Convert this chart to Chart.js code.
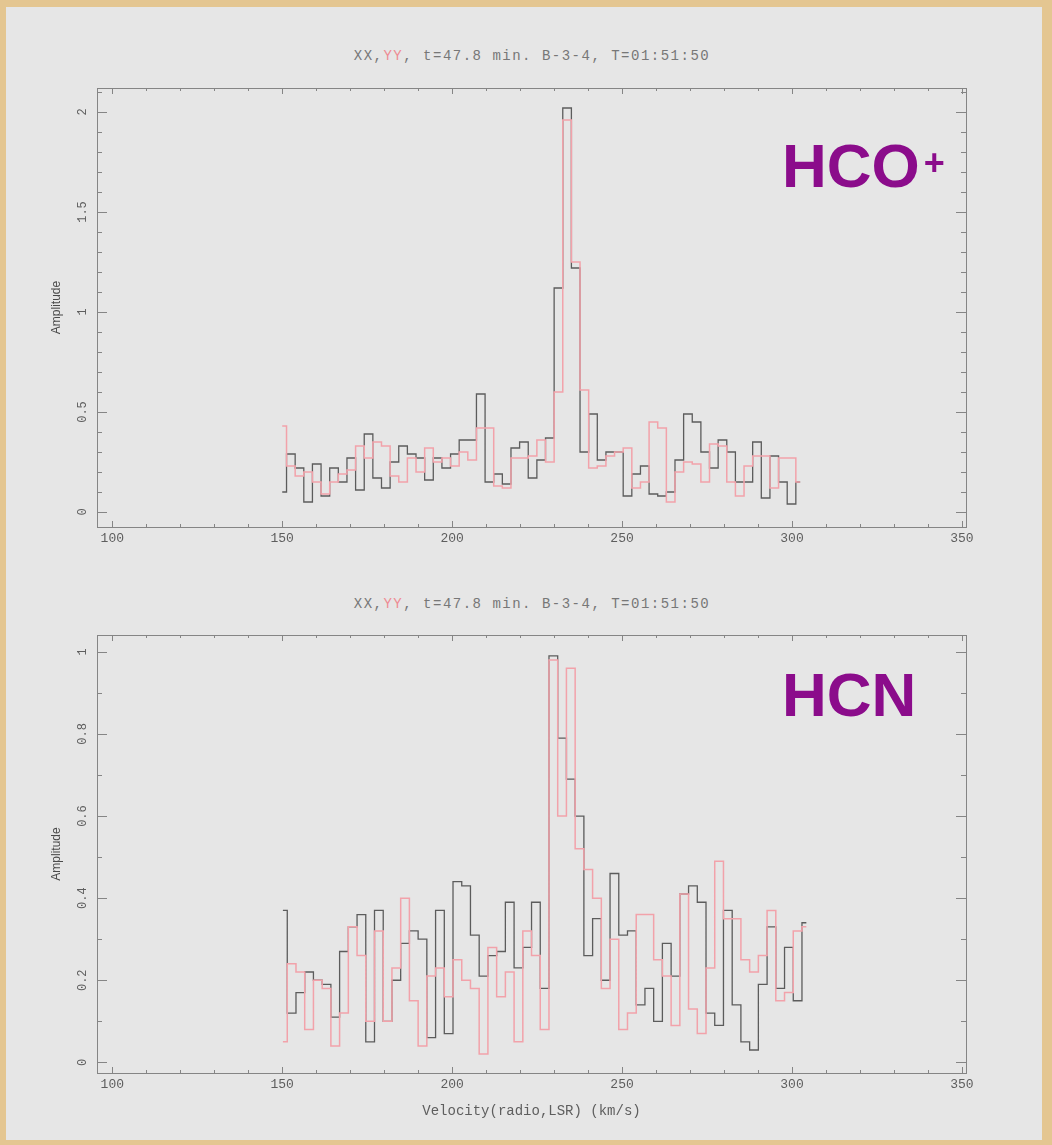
<!DOCTYPE html>
<html>
<head>
<meta charset="utf-8">
<script src="https://cdn.jsdelivr.net/npm/chart.js@4.4.1/dist/chart.umd.min.js"></script>
<style>
  html, body { margin: 0; padding: 0; }
  body { width: 1052px; height: 1145px; position: relative; overflow: hidden;
         background: #e4c691; }
  #panel { position: absolute; left: 6px; top: 7px; width: 1036px; height: 1133px; background: #e6e6e6; }
  canvas { position: absolute; left: 0; }
  .ttl { position: absolute; left: 97px; width: 870px; text-align: center;
         font: 14px 'Liberation Mono', monospace; letter-spacing: 1.5px; color: #777; }
  .ttl span { color: #ee8c94; }
  .mol { position: absolute; left: 782px; font: bold 62px 'Liberation Sans', sans-serif;
         line-height: 62px; color: #8b0c8b; }
  .mol sup { font-size: 36px; vertical-align: 12px; line-height: 0; margin-left: 4px; }
</style>
</head>
<body>
<div id="panel"></div>
<div class="ttl" style="top:48px">XX,<span>YY</span>, t=47.8 min. B-3-4, T=01:51:50</div>
<div class="ttl" style="top:596px">XX,<span>YY</span>, t=47.8 min. B-3-4, T=01:51:50</div>
<canvas id="hco" width="1052" height="480" style="top:70px"></canvas>
<canvas id="hcn" width="1052" height="560" style="top:580px"></canvas>
<div class="mol" style="top:135px">HCO<sup>+</sup></div>
<div class="mol" style="top:664px">HCN</div>
<script>
// channel centres, km/s
const hcoVelocity = [
  150.00, 152.54, 155.08, 157.62, 160.16, 162.70, 165.24, 167.78, 170.32, 172.86,
  175.40, 177.94, 180.48, 183.02, 185.56, 188.10, 190.64, 193.18, 195.72, 198.26,
  200.80, 203.34, 205.88, 208.42, 210.96, 213.50, 216.04, 218.58, 221.12, 223.66,
  226.20, 228.74, 231.28, 233.82, 236.36, 238.90, 241.44, 243.98, 246.52, 249.06,
  251.60, 254.14, 256.68, 259.22, 261.76, 264.30, 266.84, 269.38, 271.92, 274.46,
  277.00, 279.54, 282.08, 284.62, 287.16, 289.70, 292.24, 294.78, 297.32, 299.86,
  302.40
];
const hcnVelocity = [
  150.20, 152.77, 155.33, 157.90, 160.47, 163.04, 165.60, 168.17, 170.74, 173.30,
  175.87, 178.44, 181.00, 183.57, 186.14, 188.71, 191.27, 193.84, 196.41, 198.97,
  201.54, 204.11, 206.67, 209.24, 211.81, 214.38, 216.94, 219.51, 222.08, 224.64,
  227.21, 229.78, 232.34, 234.91, 237.48, 240.05, 242.61, 245.18, 247.75, 250.31,
  252.88, 255.45, 258.01, 260.58, 263.15, 265.72, 268.28, 270.85, 273.42, 275.98,
  278.55, 281.12, 283.68, 286.25, 288.82, 291.39, 293.95, 296.52, 299.09, 301.65,
  304.22
];

// HCO+ spectrum
const hcoXX = [
  0.10, 0.29, 0.22, 0.05, 0.24, 0.08, 0.22, 0.15, 0.27, 0.11,
  0.39, 0.17, 0.12, 0.25, 0.33, 0.29, 0.27, 0.16, 0.27, 0.22,
  0.29, 0.36, 0.36, 0.59, 0.15, 0.19, 0.14, 0.32, 0.35, 0.17,
  0.26, 0.37, 1.12, 2.02, 1.22, 0.30, 0.49, 0.26, 0.30, 0.30,
  0.08, 0.19, 0.23, 0.09, 0.08, 0.10, 0.26, 0.49, 0.45, 0.30,
  0.22, 0.36, 0.30, 0.15, 0.15, 0.35, 0.07, 0.28, 0.15, 0.04,
  0.15
];
const hcoYY = [
  0.43, 0.23, 0.18, 0.20, 0.15, 0.09, 0.15, 0.19, 0.21, 0.33,
  0.27, 0.35, 0.33, 0.18, 0.15, 0.27, 0.20, 0.32, 0.25, 0.27,
  0.23, 0.30, 0.26, 0.42, 0.42, 0.13, 0.12, 0.27, 0.27, 0.28,
  0.36, 0.25, 0.60, 1.96, 1.25, 0.61, 0.22, 0.23, 0.28, 0.30,
  0.32, 0.12, 0.15, 0.45, 0.42, 0.05, 0.20, 0.25, 0.24, 0.15,
  0.34, 0.33, 0.15, 0.08, 0.23, 0.28, 0.28, 0.12, 0.27, 0.27,
  0.15
];

// HCN spectrum
const hcnXX = [
  0.37, 0.12, 0.17, 0.22, 0.20, 0.19, 0.11, 0.27, 0.33, 0.36,
  0.05, 0.37, 0.10, 0.20, 0.29, 0.32, 0.30, 0.06, 0.37, 0.07,
  0.44, 0.43, 0.31, 0.21, 0.26, 0.27, 0.39, 0.23, 0.28, 0.39,
  0.18, 0.99, 0.79, 0.69, 0.60, 0.26, 0.35, 0.20, 0.46, 0.31,
  0.32, 0.14, 0.18, 0.10, 0.29, 0.21, 0.41, 0.43, 0.39, 0.12,
  0.09, 0.37, 0.14, 0.05, 0.03, 0.19, 0.33, 0.18, 0.28, 0.15,
  0.34
];
const hcnYY = [
  0.05, 0.24, 0.22, 0.08, 0.20, 0.18, 0.04, 0.12, 0.33, 0.26,
  0.10, 0.32, 0.10, 0.23, 0.40, 0.15, 0.04, 0.21, 0.23, 0.16,
  0.25, 0.20, 0.18, 0.02, 0.28, 0.16, 0.22, 0.05, 0.32, 0.26,
  0.08, 0.98, 0.60, 0.96, 0.52, 0.47, 0.40, 0.18, 0.30, 0.08,
  0.12, 0.36, 0.36, 0.25, 0.21, 0.09, 0.41, 0.13, 0.07, 0.23,
  0.49, 0.35, 0.35, 0.25, 0.22, 0.26, 0.37, 0.15, 0.17, 0.32,
  0.33
];

const xRange = [95.5, 351.2];
const xTicks = [100, 150, 200, 250, 300, 350];

const AXIS_GREY = '#858585';
const LABEL_GREY = '#5e5e5e';

// box round the plot with inward major/minor ticks on all four sides
const frameTicks = {
  id: 'frameTicks',
  afterDatasetsDraw(chart, args, o) {
    const { ctx, chartArea: a, scales: { x, y } } = chart;
    ctx.save();
    ctx.strokeStyle = AXIS_GREY;
    ctx.lineWidth = 1;
    ctx.strokeRect(Math.round(a.left) + 0.5, Math.round(a.top) + 0.5,
                   Math.round(a.right - a.left), Math.round(a.bottom - a.top));
    ctx.beginPath();
    const marks = (scale, step, len, horiz) => {
      const first = Math.ceil(scale.min / step - 1e-6);
      const last = Math.floor(scale.max / step + 1e-6);
      for (let i = first; i <= last; i++) {
        const p = Math.round(scale.getPixelForValue(i * step)) + 0.5;
        if (horiz) {
          ctx.moveTo(p, a.bottom); ctx.lineTo(p, a.bottom - len);
          ctx.moveTo(p, a.top); ctx.lineTo(p, a.top + len);
        } else {
          ctx.moveTo(a.left, p); ctx.lineTo(a.left + len, p);
          ctx.moveTo(a.right, p); ctx.lineTo(a.right - len, p);
        }
      }
    };
    marks(x, 10, 3, true);
    marks(x, 50, 6, true);
    marks(y, o.yMinor, 5, false);
    marks(y, o.yMajor, 10, false);
    ctx.stroke();
    ctx.restore();
  }
};

function spectrum(id, velocity, xx, yy, yMin, yMax, yStep, pad, xTitle) {
  const pts = arr => velocity.map((v, i) => ({ x: v, y: arr[i] }));
  return new Chart(document.getElementById(id), {
    type: 'line',
    data: {
      datasets: [
        { label: 'YY', data: pts(yy), borderColor: '#f2a2aa', borderWidth: 1.5,
          stepped: 'middle', pointRadius: 0, order: 0 },
        { label: 'XX', data: pts(xx), borderColor: '#5c5c5c', borderWidth: 1.3,
          stepped: 'middle', pointRadius: 0, order: 1 }
      ]
    },
    options: {
      responsive: false,
      animation: false,
      layout: { padding: { left: 0, right: 86, top: pad.top, bottom: 0 } },
      plugins: {
        legend: { display: false },
        tooltip: { enabled: false },
        frameTicks: { yMajor: yStep, yMinor: 0.1 }
      },
      scales: {
        x: {
          type: 'linear', min: xRange[0], max: xRange[1],
          grid: { display: false, drawTicks: false },
          border: { display: false },
          afterBuildTicks: s => { s.ticks = xTicks.map(v => ({ value: v })); },
          afterFit: s => { s.height = pad.bottom; },
          ticks: { padding: 4, color: LABEL_GREY, maxRotation: 0,
                   font: { family: 'Liberation Mono', size: 13 } },
          title: { display: !!xTitle, text: xTitle || '', color: LABEL_GREY,
                   padding: { top: 0, bottom: 20 },
                   font: { family: 'Liberation Mono', size: 14 } }
        },
        y: {
          type: 'linear', min: yMin, max: yMax,
          grid: { display: false, drawTicks: false },
          border: { display: false },
          afterFit: s => { s.width = 97; },
          ticks: { stepSize: yStep, includeBounds: false, padding: 3,
                   minRotation: 90, maxRotation: 90, crossAlign: 'center',
                   color: LABEL_GREY, font: { family: 'Liberation Mono', size: 12 },
                   callback: v => String(+v.toFixed(2)) },
          title: { display: true, text: 'Amplitude', color: '#4a4a4a',
                   padding: { top: 49, bottom: 0 },
                   font: { family: 'Liberation Sans', size: 12 } }
        }
      }
    },
    plugins: [frameTicks]
  });
}

spectrum('hco', hcoVelocity, hcoXX, hcoYY, -0.075, 2.12, 0.5, { top: 18, bottom: 23 });
spectrum('hcn', hcnVelocity, hcnXX, hcnYY, -0.026, 1.041, 0.2, { top: 55, bottom: 67 },
         'Velocity(radio,LSR) (km/s)');
</script>
</body>
</html>
